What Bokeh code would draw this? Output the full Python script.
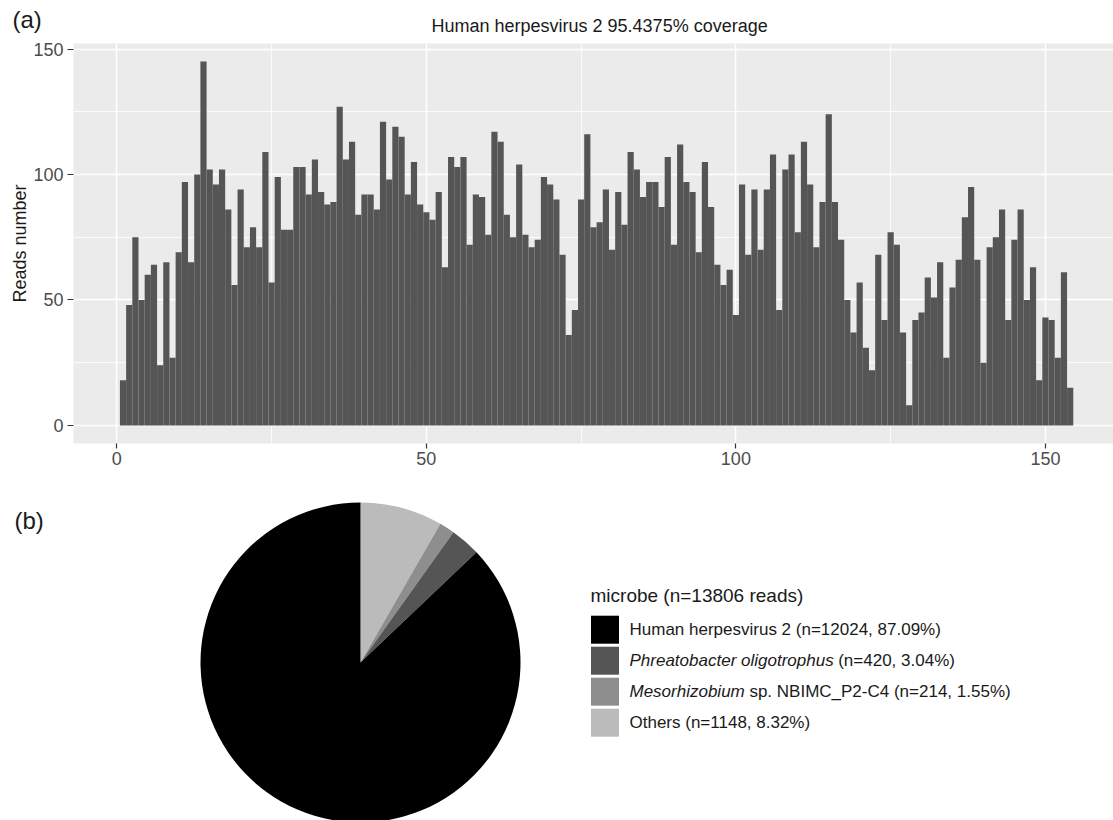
from bokeh.plotting import figure
from bokeh.models import Range1d, FixedTicker
from bokeh.layouts import column
from bokeh.embed import file_html
from bokeh.resources import INLINE
from bokeh.core.properties import value
import math

# ---------------- data ----------------
positions = list(range(1, 155))
reads = [
    18, 48, 75, 50, 60, 64, 24, 65, 27, 69,
    97, 65, 100, 145, 102, 96, 102, 86, 56, 94,
    71, 79, 71, 109, 57, 99, 78, 78, 103, 103,
    92, 106, 93, 88, 89, 127, 106, 113, 84, 92,
    92, 86, 121, 98, 119, 115, 92, 105, 88, 85,
    82, 93, 63, 107, 103, 107, 72, 92, 91, 76,
    117, 113, 84, 75, 104, 76, 71, 74, 99, 96,
    90, 68, 36, 46, 90, 116, 79, 81, 94, 70,
    93, 80, 109, 102, 91, 97, 97, 87, 107, 72,
    112, 97, 93, 69, 105, 87, 64, 56, 62, 44,
    96, 68, 94, 70, 94, 108, 46, 102, 108, 77,
    113, 96, 71, 89, 124, 89, 74, 50, 37, 57,
    31, 22, 68, 42, 77, 72, 37, 8, 42, 45,
    59, 51, 65, 27, 55, 66, 83, 95, 66, 25,
    71, 75, 86, 42, 74, 86, 50, 63, 18, 43,
    42, 27, 61, 15,
]
bar_title = "Human herpesvirus 2 95.4375% coverage"
y_label = "Reads number"
x_ticks = [0, 50, 100, 150]
x_minor = [25, 75, 125]
y_ticks = [0, 50, 100, 150]
y_minor = [25, 75, 125]

microbes = ["Human herpesvirus 2", "Phreatobacter oligotrophus",
            "Mesorhizobium sp. NBIMC_P2-C4", "Others"]
counts = [12024, 420, 214, 1148]
total_reads = 13806
legend_title = "microbe (n=13806 reads)"
italic_parts = ["", "Phreatobacter oligotrophus", "Mesorhizobium", ""]
plain_parts = ["Human herpesvirus 2 (n=12024, 87.09%)", "(n=420, 3.04%)",
               "sp. NBIMC_P2-C4 (n=214, 1.55%)", "Others (n=1148, 8.32%)"]
pie_colors = ["#000000", "#555555", "#8E8E8E", "#BBBBBB"]
pie_order = [3, 2, 1, 0]   # clockwise from 12 o'clock

FONT = "Liberation Sans"
TXT = "#1A1A1A"
W = 1113

def blank(height, xr, yr):
    f = figure(width=W, height=height, output_backend="svg", toolbar_location=None,
               x_range=Range1d(*xr), y_range=Range1d(*yr), title=None,
               x_axis_location=None, y_axis_location=None, min_border=0,
               frame_align=False)
    f.grid.visible = False
    f.outline_line_color = None
    f.background_fill_color = "white"
    f.border_fill_color = "white"
    return f

# ---------------- header: panel tag + title ----------------
H0 = 38
p0 = blank(H0, (0, W), (0, H0))
p0.text(x=[12], y=[H0 - 18.5], text=["(a)"], text_font=value(FONT),
        text_font_size=value("24px"), text_baseline="middle", text_align="left",
        text_color=TXT)
p0.text(x=[431], y=[H0 - 25], text=[bar_title], text_font=value(FONT),
        text_font_size=value("18px"), text_baseline="middle", text_align="left",
        text_color=TXT)

# ---------------- panel (a) ----------------
H1 = 436
p1 = figure(width=W, height=H1, output_backend="svg", toolbar_location=None,
            x_range=Range1d(-7.0, 161.0), y_range=Range1d(-7.2, 152.2), title=None,
            min_border_left=73, min_border_right=0, min_border_top=5,
            min_border_bottom=31, frame_align=False)
p1.background_fill_color = "#EBEBEB"
p1.border_fill_color = "white"
p1.outline_line_color = None

p1.vbar(x=positions, top=reads, width=1.0, bottom=0,
        fill_color="#555555", line_color=None)

for ax, tk, mn, tick_len, std in ((p1.xaxis[0], x_ticks, x_minor, 5, 3),
                                  (p1.yaxis[0], y_ticks, y_minor, 6, 4)):
    ax.ticker = FixedTicker(ticks=tk, minor_ticks=mn)
    ax.axis_line_color = None
    ax.major_tick_line_color = "#333333"
    ax.major_tick_line_width = 1.2
    ax.major_tick_out = tick_len
    ax.major_tick_in = 0
    ax.minor_tick_line_color = None
    ax.major_label_text_font = FONT
    ax.major_label_text_font_size = "18px"
    ax.major_label_text_color = "#4D4D4D"
    ax.major_label_standoff = std

p1.yaxis.axis_label = y_label
p1.yaxis.axis_label_text_font = FONT
p1.yaxis.axis_label_text_font_size = "18px"
p1.yaxis.axis_label_text_font_style = "normal"
p1.yaxis.axis_label_text_color = TXT
p1.yaxis.axis_label_standoff = 0

for g in (p1.xgrid[0], p1.ygrid[0]):
    g.grid_line_color = "white"
    g.grid_line_width = 1.5
    g.minor_grid_line_color = "white"
    g.minor_grid_line_width = 0.8

# ---------------- panel (b) ----------------
TOP2 = H0 + H1
H2 = 820 - TOP2
CX, CY = 360, 662   # pie centre in page pixels
def lx(x):
    return x - CX
def ly(y):
    return CY - y

p2 = blank(H2, (lx(0), lx(W)), (ly(TOP2 + H2), ly(TOP2)))

fracs = [c / sum(counts) for c in counts]
starts, ends, cols = [], [], []
cum = 0.0
for i in pie_order:
    a0 = math.pi / 2 - 2 * math.pi * cum
    cum += fracs[i]
    a1 = math.pi / 2 - 2 * math.pi * cum
    starts.append(a0)
    ends.append(a1)
    cols.append(pie_colors[i])
p2.wedge(x=0, y=0, radius=160, start_angle=starts, end_angle=ends,
         direction="clock", fill_color=cols, line_color=None)

# legend
p2.text(x=[lx(590)], y=[ly(595)], text=[legend_title], text_font=value(FONT),
        text_font_size=value("19px"), text_baseline="middle", text_align="left",
        text_color=TXT)
row_y = [ly(629.2 + 31 * k) for k in range(len(microbes))]
p2.rect(x=[lx(604.5)] * len(microbes), y=row_y, width=28, height=28,
        fill_color=pie_colors, line_color=None)
italic_w = [0, 204 + 4.7, 115.2 + 4.7, 0]   # italic run width plus a space
it_x, it_y, it_t = [], [], []
pl_x, pl_y, pl_t = [], [], []
for k in range(len(microbes)):
    if italic_parts[k]:
        it_x.append(lx(629)); it_y.append(row_y[k]); it_t.append(italic_parts[k])
    pl_x.append(lx(629 + italic_w[k])); pl_y.append(row_y[k]); pl_t.append(plain_parts[k])
p2.text(x=it_x, y=it_y, text=it_t, text_font=value(FONT), text_font_style="italic",
        text_font_size=value("17px"), text_baseline="middle", text_align="left",
        text_color=TXT)
p2.text(x=pl_x, y=pl_y, text=pl_t, text_font=value(FONT),
        text_font_size=value("17px"), text_baseline="middle", text_align="left",
        text_color=TXT)
p2.text(x=[lx(14)], y=[ly(520)], text=["(b)"], text_font=value(FONT),
        text_font_size=value("24px"), text_baseline="middle", text_align="left",
        text_color=TXT)

layout = column(p0, p1, p2, spacing=0)
open("out.html", "w").write(file_html(layout, INLINE))
